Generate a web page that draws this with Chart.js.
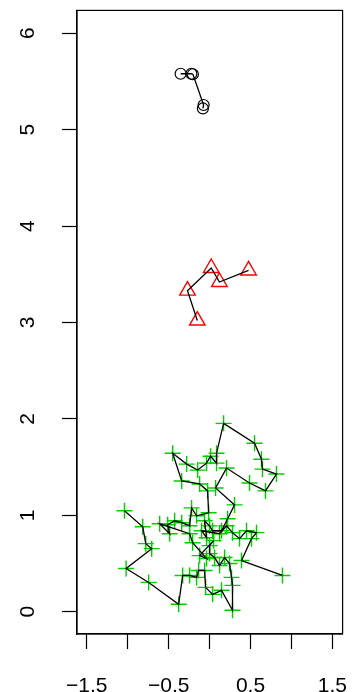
<!DOCTYPE html>
<html>
<head>
<meta charset="utf-8">
<script src="https://cdn.jsdelivr.net/npm/chart.js@4"></script>
<style>
  body { margin: 0; background: #fff; }
</style>
</head>
<body>
<canvas id="chart" width="353" height="692"></canvas>
<script>
// values
const greenX = [-1.04, -0.817, -0.78, -0.707, -1.02, -0.744, -0.378, -0.329, -0.244, -0.159,
    -0.134, -0.061, -0.049, 0.037, 0.146, 0.28, 0.28, 0.268, 0.244, 0.183,
    0.122, 0.061, 0.0, 0.0, 0.049, -0.122, -0.037, -0.207, -0.244, -0.61,
    -0.488, -0.512, -0.427, -0.341, -0.244, -0.22, -0.159, -0.012, -0.024, -0.122,
    -0.341, -0.451, -0.28, -0.146, -0.037, 0.012, 0.085, 0.085, 0.171, 0.549,
    0.634, 0.646, 0.817, 0.683, 0.488, 0.207, 0.073, 0.305, 0.22, 0.146,
    0.037, 0.0, -0.061, -0.037, -0.098, 0.122, 0.207, 0.28, 0.366, 0.451,
    0.573, 0.512, 0.39, 0.89]
const greenY = [1.047, 0.881, 0.706, 0.654, 0.448, 0.304, 0.077, 0.376, 0.376, 0.356,
    0.428, 0.428, 0.253, 0.18, 0.222, 0.015, 0.273, 0.356, 0.5, 0.562,
    0.48, 0.562, 0.603, 0.686, 0.737, 0.582, 0.552, 0.716, 0.809, 0.912,
    0.809, 0.902, 0.943, 0.923, 0.892, 1.077, 0.995, 1.026, 1.253, 1.325,
    1.356, 1.644, 1.531, 1.469, 1.541, 1.613, 1.541, 1.644, 1.954, 1.747,
    1.582, 1.479, 1.428, 1.253, 1.335, 1.49, 1.284, 1.108, 0.964, 0.84,
    0.84, 0.89, 0.943, 0.768, 0.84, 0.809, 0.892, 0.82, 0.758, 0.84,
    0.82, 0.758, 0.531, 0.376]

const redX = [-0.15, -0.27, 0.02, 0.12, 0.476]
const redY = [3.02, 3.33, 3.565, 3.42, 3.54]

const blackX = [-0.354, -0.223, -0.204, -0.073, -0.082]
const blackY = [5.58, 5.58, 5.575, 5.256, 5.22]

const xTicks = [-1.5, -0.5, 0.5, 1.5]   // labelled ticks
const xMin = -1.62, xMax = 1.625
const yMin = -0.231, yMax = 6.237

function toPoints(xs, ys) {
    return xs.map((x, i) => ({ x: x, y: ys[i] }))
}

const green = toPoints(greenX, greenY)
const red = toPoints(redX, redY)
const black = toPoints(blackX, blackY)

// lines go on top of the symbols, like type="o"
function lineSet(data) {
    return { data: data, showLine: true, pointRadius: 0, borderColor: '#000', borderWidth: 1.3, order: 0 }
}

const boxPlugin = {
    id: 'box',
    afterDraw(chart) {
        const a = chart.chartArea
        const ctx = chart.ctx
        ctx.save()
        ctx.strokeStyle = '#000'
        ctx.lineWidth = 1.2
        ctx.strokeRect(a.left, a.top, a.right - a.left, a.bottom - a.top)
        ctx.restore()
    }
}

const fmt = v => (v < 0 ? '\u2212' : '') + Math.abs(v).toString()
const font = { family: 'Liberation Sans, Arial, sans-serif', size: 21 }

const ctx = document.getElementById('chart').getContext('2d')
window.myChart = new Chart(ctx, {
    type: 'scatter',
    data: {
        datasets: [
            lineSet(green),
            lineSet(red),
            lineSet(black),
            {
                data: green, pointStyle: 'cross', pointRadius: 8, pointBorderColor: '#00cd00',
                pointBorderWidth: 1.4, showLine: false, order: 1
            },
            {
                data: red, pointStyle: 'triangle', pointRadius: 9, pointBorderColor: '#ff0000',
                pointBackgroundColor: 'rgba(0,0,0,0)', pointBorderWidth: 1.4, showLine: false, order: 1
            },
            {
                data: black, pointStyle: 'circle', pointRadius: 5.5, pointBorderColor: '#000',
                pointBackgroundColor: 'rgba(0,0,0,0)', pointBorderWidth: 1.2, showLine: false, order: 1
            }
        ]
    },
    options: {
        responsive: false,
        animation: false,
        layout: { padding: { top: 6, right: 10, left: 0, bottom: 0 } },
        plugins: { legend: { display: false }, tooltip: { enabled: false } },
        scales: {
            x: {
                type: 'linear', min: xMin, max: xMax,
                afterFit: s => { s.height = 58; s.paddingLeft = 0; s.paddingRight = 0 },
                border: { display: true, color: '#000', width: 1.2 },
                grid: { drawOnChartArea: false, drawTicks: true, tickLength: 15, tickColor: '#000', tickWidth: 1.2 },
                ticks: {
                    stepSize: 0.5, includeBounds: false, autoSkip: false, maxRotation: 0,
                    color: '#000', padding: 25, font: font,
                    callback: v => xTicks.includes(v) ? fmt(v) : ''
                }
            },
            y: {
                type: 'linear', min: yMin, max: yMax,
                afterFit: s => { s.width = 77; s.paddingTop = 0; s.paddingBottom = 0 },
                border: { display: true, color: '#000', width: 1.2 },
                grid: { drawOnChartArea: false, drawTicks: true, tickLength: 15, tickColor: '#000', tickWidth: 1.2 },
                ticks: {
                    stepSize: 1, includeBounds: false, autoSkip: false,
                    minRotation: 90, maxRotation: 90, crossAlign: 'center',
                    color: '#000', padding: 28, font: font,
                    callback: v => fmt(v)
                }
            }
        }
    },
    plugins: [boxPlugin]
});
</script>
</body>
</html>
